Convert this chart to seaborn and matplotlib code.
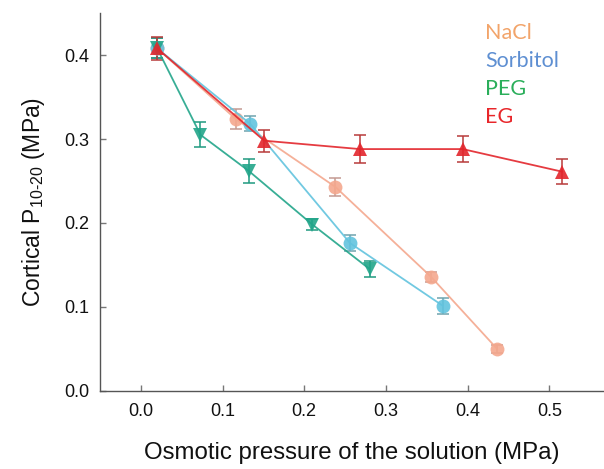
import numpy as np
import pandas as pd
import matplotlib
matplotlib.use("Agg")
import matplotlib.pyplot as plt
import seaborn as sns

# Data (x: osmotic pressure MPa, y: cortical P10-20 MPa)
nacl_x = [0.02, 0.116, 0.238, 0.355, 0.436]
nacl_y = [0.408, 0.324, 0.243, 0.136, 0.050]
nacl_err = [0.012, 0.012, 0.011, 0.006, 0.005]

sorb_x = [0.02, 0.134, 0.256, 0.370]
sorb_y = [0.408, 0.318, 0.176, 0.101]
sorb_err = [0.012, 0.009, 0.009, 0.010]

peg_x = [0.02, 0.073, 0.132, 0.210, 0.280]
peg_y = [0.408, 0.305, 0.262, 0.198, 0.145]
peg_err = [0.012, 0.015, 0.014, 0.007, 0.010]

eg_x = [0.02, 0.151, 0.268, 0.394, 0.516]
eg_y = [0.408, 0.298, 0.288, 0.288, 0.261]
eg_err = [0.014, 0.013, 0.017, 0.015, 0.015]

series_names = ["NaCl", "Sorbitol", "PEG", "EG"]
line_colors = ["#F4A88E", "#62C3DE", "#22A58A", "#E3262C"]
bar_colors = ["#C49A92", "#6FA3AE", "#1F9A80", "#B83A3A"]
text_colors = ["#F2A46A", "#5E8FD2", "#2AAE5A", "#E8262A"]
markers = ["o", "o", "v", "^"]

sns.set_theme(style="white")
plt.rcParams["font.family"] = ["Liberation Sans", "DejaVu Sans"]
plt.rcParams["mathtext.fontset"] = "custom"
plt.rcParams["mathtext.rm"] = "Liberation Sans"

fig = plt.figure(figsize=(6.04, 4.69), dpi=100)
ax = fig.add_axes([0.1656, 0.167, 0.8344, 0.8049])

all_x = [nacl_x, sorb_x, peg_x, eg_x]
all_y = [nacl_y, sorb_y, peg_y, eg_y]
all_e = [nacl_err, sorb_err, peg_err, eg_err]

for name, xs, ys, es, lc, bc, mk in zip(series_names, all_x, all_y, all_e,
                                         line_colors, bar_colors, markers):
    df = pd.DataFrame({"x": xs, "y": ys})
    ax.errorbar(xs, ys, yerr=es, fmt="none", ecolor=bc, elinewidth=1.1,
                capsize=4, capthick=1.1, zorder=2)
    sns.lineplot(data=df, x="x", y="y", ax=ax, color=lc, lw=1.3,
                 marker=mk, markersize=10.5 if mk != "o" else 10,
                 markeredgewidth=0, alpha=0.9, sort=False, zorder=3)

ax.set_xlim(-0.05, 0.567)
ax.set_ylim(0.0, 0.45)
ax.set_xticks([0.0, 0.1, 0.2, 0.3, 0.4, 0.5])
ax.set_yticks([0.0, 0.1, 0.2, 0.3, 0.4])
ax.xaxis.set_major_formatter(matplotlib.ticker.FormatStrFormatter("%.1f"))
ax.yaxis.set_major_formatter(matplotlib.ticker.FormatStrFormatter("%.1f"))

for side in ["top", "right"]:
    ax.spines[side].set_visible(False)
for side in ["left", "bottom"]:
    ax.spines[side].set_color("#555555")
    ax.spines[side].set_linewidth(1.0)

ax.tick_params(axis="both", direction="in", length=4, width=1,
               color="#777777", labelsize=13, labelcolor="#111111")
ax.tick_params(axis="x", pad=9, bottom=True)
ax.tick_params(axis="y", pad=8, left=True)

ax.set_xlabel("Osmotic pressure of the solution (MPa)", fontsize=17.3,
              color="#111111", labelpad=16)
ax.set_ylabel(r"Cortical P$_{\mathregular{10\text{-}20}}$ (MPa)", fontsize=16.5,
              color="#111111", labelpad=12)

# coloured text legend
for i, (name, tc) in enumerate(zip(series_names, text_colors)):
    fig.text(485 / 604, 1 - (33 + 28 * i) / 469, name, color=tc,
             fontsize=15.5, family=["Lato", "DejaVu Sans"], va="center", ha="left")

fig.savefig("out.png", dpi=100)
